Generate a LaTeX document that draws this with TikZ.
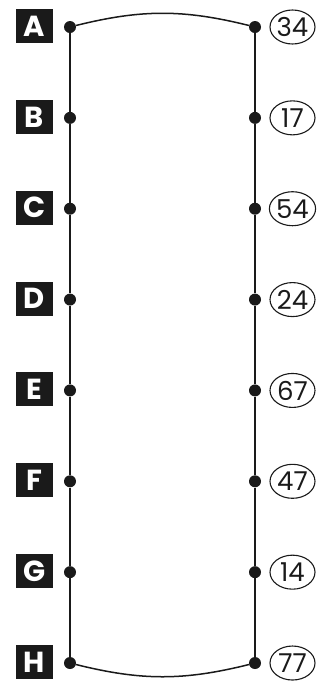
\documentclass[tikz,border=0pt]{standalone}
\usepackage{fontspec}
\setmainfont{Poppins}
\usetikzlibrary{shapes.geometric, positioning}
\definecolor{plInk}{HTML}{1A1A1A}
\tikzset{
  lettertag/.style={fill=plInk, text=white, minimum width=37, minimum height=34,
    inner sep=0pt, font=\fontsize{29}{29}\selectfont\bfseries},
  pin/.style={circle, fill=plInk, minimum size=12, inner sep=0pt},
  countmark/.style={draw=plInk, ellipse, line width=1.1, minimum width=45, minimum height=34,
    inner sep=0pt, font=\fontsize{26}{26}\selectfont, text=plInk},
  rail/.style={line width=1.5, plInk}
}
\begin{document}
\begin{tikzpicture}[x=1pt, y=-1pt]
  \useasboundingbox (0,0) rectangle (328,681);
  \foreach \i/\lbl/\num in {0/A/34, 1/B/17, 2/C/54, 3/D/24, 4/E/67, 5/F/47, 6/G/14, 7/H/77}{
    \node[pin] (p\lbl) at (70, 27+\i*90.86) {};
    \node[pin] (q\lbl) at (255, 27+\i*90.86) {};
    \node[lettertag] (t\lbl) at (34.5, 26+\i*90.86) {\lbl};
    \node[countmark] (n\lbl) at (292.5, 27+\i*90.86) {\num};
  }
  \foreach \a/\b in {A/B, B/C, C/D, D/E, E/F, F/G, G/H}{
    \draw[rail] (p\a) -- (p\b);
    \draw[rail] (q\a) -- (q\b);
  }
  \draw[rail] (pA) to[bend left=14] (qA);
  \draw[rail] (pH) to[bend right=14] (qH);
\end{tikzpicture}
\end{document}
